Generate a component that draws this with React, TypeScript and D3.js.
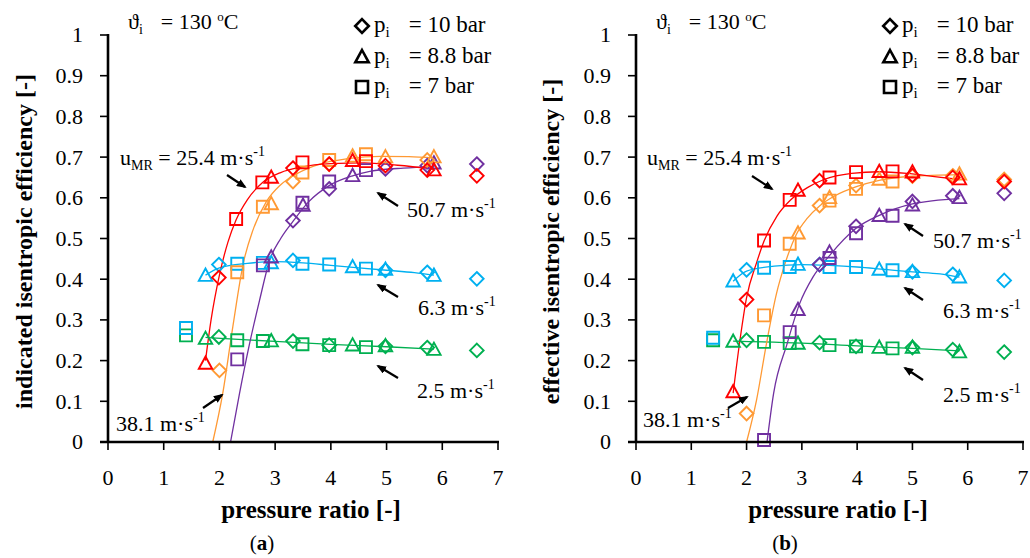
import React from 'react';
import * as d3 from 'd3';

type P = [number, number];

// ---------- axis ticks ----------
const X_TICKS = [0, 1, 2, 3, 4, 5, 6, 7];
const Y_TICKS = [0, 0.1, 0.2, 0.3, 0.4, 0.5, 0.6, 0.7, 0.8, 0.9, 1];
const Y_TICK_LABELS = ['0', '0.1', '0.2', '0.3', '0.4', '0.5', '0.6', '0.7', '0.8', '0.9', '1'];
const LEGEND_LABELS = ['= 10 bar', '= 8.8 bar', '= 7 bar'];
const SPEED_LABELS = ['2.5', '6.3', '25.4', '38.1', '50.7'];

// ---------- (a) indicated isentropic efficiency ----------
const indGreenDia: P[] = [[1.99, 0.258], [3.32, 0.248], [3.97, 0.238], [4.98, 0.235], [5.73, 0.232], [6.62, 0.225]];
const indGreenTri: P[] = [[1.75, 0.254], [2.93, 0.248], [4.39, 0.238], [4.98, 0.236], [5.85, 0.227]];
const indGreenSq: P[] = [[1.40, 0.262], [2.32, 0.25], [2.78, 0.248], [3.49, 0.240], [3.97, 0.238], [4.63, 0.233]];
const indGreenFit: P[] = [[1.75, 0.257], [3.0, 0.247], [4.0, 0.240], [5.0, 0.234], [5.85, 0.228]];

const indBlueDia: P[] = [[1.99, 0.436], [3.32, 0.446], [4.98, 0.422], [5.73, 0.417], [6.62, 0.401]];
const indBlueTri: P[] = [[1.75, 0.409], [2.93, 0.44], [4.39, 0.43], [4.98, 0.424], [5.85, 0.409]];
const indBlueSq: P[] = [[1.40, 0.28], [2.32, 0.438], [2.78, 0.44], [3.49, 0.438], [3.97, 0.436], [4.63, 0.426]];
const indBlueFit: P[] = [[1.75, 0.41], [2.0, 0.428], [2.5, 0.439], [3.0, 0.443], [3.5, 0.44], [4.0, 0.434], [4.5, 0.428], [5.0, 0.422], [5.5, 0.416], [5.85, 0.41]];

const indRedDia: P[] = [[1.99, 0.404], [3.32, 0.673], [3.97, 0.683], [4.98, 0.679], [5.73, 0.668], [6.62, 0.654]];
const indRedTri: P[] = [[1.75, 0.193], [2.93, 0.65], [4.39, 0.691], [5.85, 0.668]];
const indRedSq: P[] = [[2.30, 0.548], [2.77, 0.638], [3.49, 0.687], [4.63, 0.69]];
const indRedFit: P[] = [[1.75, 0.2], [1.85, 0.3], [2.0, 0.41], [2.15, 0.49], [2.3, 0.546], [2.5, 0.595], [2.77, 0.637], [3.1, 0.662], [3.45, 0.675], [4.0, 0.684], [4.6, 0.686], [5.2, 0.68], [5.85, 0.671]];

const indOrangeDia: P[] = [[2.0, 0.176], [3.32, 0.640], [3.97, 0.683], [5.73, 0.693]];
const indOrangeTri: P[] = [[2.93, 0.585], [4.39, 0.702], [4.98, 0.70], [5.85, 0.70]];
const indOrangeSq: P[] = [[2.32, 0.417], [2.78, 0.578], [3.49, 0.662], [3.97, 0.693], [4.63, 0.707]];
const indOrangeFit: P[] = [[1.88, 0], [2.06, 0.12], [2.24, 0.283], [2.43, 0.44], [2.6, 0.52], [2.84, 0.59], [3.1, 0.632], [3.4, 0.66], [3.8, 0.683], [4.3, 0.696], [4.9, 0.702], [5.4, 0.701], [5.85, 0.698]];

const indPurpleDia: P[] = [[3.32, 0.544], [3.97, 0.622], [4.98, 0.671], [5.73, 0.679], [6.62, 0.683]];
const indPurpleTri: P[] = [[2.93, 0.454], [3.50, 0.581], [4.39, 0.654], [5.85, 0.685]];
const indPurpleSq: P[] = [[2.32, 0.203], [2.78, 0.434], [3.49, 0.588], [3.97, 0.640], [4.63, 0.668]];
const indPurpleFit: P[] = [[2.2, 0], [2.36, 0.119], [2.54, 0.241], [2.72, 0.348], [2.9, 0.446], [3.1, 0.5], [3.32, 0.542], [3.6, 0.59], [3.97, 0.63], [4.39, 0.654], [4.7, 0.665], [5.3, 0.673], [5.85, 0.676]];

// ---------- (b) effective isentropic efficiency ----------
const effGreenDia: P[] = [[2.0, 0.25], [3.32, 0.244], [3.98, 0.235], [5.0, 0.232], [5.73, 0.227], [6.66, 0.221]];
const effGreenTri: P[] = [[1.757, 0.247], [2.93, 0.242], [4.40, 0.232], [5.0, 0.232], [5.85, 0.221]];
const effGreenSq: P[] = [[1.395, 0.25], [2.316, 0.246], [2.78, 0.243], [3.5, 0.238], [3.98, 0.235], [4.64, 0.23]];
const effGreenFit: P[] = [[1.757, 0.248], [3.0, 0.243], [4.0, 0.236], [5.0, 0.23], [5.85, 0.224]];

const effBlueDia: P[] = [[2.0, 0.423], [3.32, 0.436], [5.0, 0.418], [5.73, 0.412], [6.66, 0.397]];
const effBlueTri: P[] = [[1.757, 0.395], [2.93, 0.436], [4.40, 0.424], [5.0, 0.418], [5.85, 0.405]];
const effBlueSq: P[] = [[1.395, 0.256], [2.316, 0.428], [2.78, 0.43], [3.5, 0.43], [3.98, 0.43], [4.64, 0.422]];
const effBlueFit: P[] = [[1.757, 0.395], [2.0, 0.42], [2.5, 0.432], [3.0, 0.436], [3.5, 0.434], [4.0, 0.43], [4.5, 0.424], [5.0, 0.418], [5.5, 0.413], [5.85, 0.405]];

const effRedDia: P[] = [[2.0, 0.35], [3.32, 0.642], [5.0, 0.655], [5.73, 0.65], [6.66, 0.64]];
const effRedTri: P[] = [[1.757, 0.123], [2.93, 0.618], [4.40, 0.664], [5.0, 0.663], [5.85, 0.646]];
const effRedSq: P[] = [[2.316, 0.495], [2.78, 0.595], [3.5, 0.65], [3.98, 0.663], [4.64, 0.665]];
const effRedFit: P[] = [[1.757, 0.12], [1.88, 0.25], [2.0, 0.355], [2.18, 0.44], [2.32, 0.495], [2.55, 0.555], [2.8, 0.595], [3.1, 0.625], [3.4, 0.645], [3.9, 0.66], [4.4, 0.664], [4.9, 0.66], [5.4, 0.652], [5.85, 0.645]];

const effOrangeDia: P[] = [[2.0, 0.07], [3.32, 0.581], [3.98, 0.63], [5.0, 0.653], [5.73, 0.654], [6.66, 0.645]];
const effOrangeTri: P[] = [[2.93, 0.513], [3.5, 0.6], [4.40, 0.645], [5.85, 0.658]];
const effOrangeSq: P[] = [[2.316, 0.311], [2.78, 0.487], [3.5, 0.593], [3.98, 0.622], [4.64, 0.64]];
const effOrangeFit: P[] = [[2.0, 0], [2.18, 0.103], [2.36, 0.242], [2.54, 0.364], [2.7, 0.44], [2.9, 0.51], [3.1, 0.55], [3.32, 0.58], [3.6, 0.605], [4.0, 0.628], [4.4, 0.643], [5.0, 0.653], [5.85, 0.657]];

const effPurpleDia: P[] = [[3.32, 0.436], [3.98, 0.53], [5.0, 0.591], [5.73, 0.605], [6.66, 0.611]];
const effPurpleTri: P[] = [[2.93, 0.325], [3.5, 0.466], [4.40, 0.556], [5.0, 0.582], [5.85, 0.6]];
const effPurpleSq: P[] = [[2.316, 0.005], [2.78, 0.27], [3.5, 0.452], [3.98, 0.513], [4.64, 0.556]];
const effPurpleFit: P[] = [[2.37, 0], [2.49, 0.12], [2.73, 0.24], [2.96, 0.34], [3.2, 0.405], [3.5, 0.458], [3.98, 0.525], [4.4, 0.557], [5.0, 0.585], [5.85, 0.598]];

const GREEN = '#00b050';
const BLUE = '#00b0f0';
const RED = '#ff0000';
const ORANGE = '#ff9933';
const PURPLE = '#7030a0';

interface Series { color: string; fit: P[]; dia: P[]; tri: P[]; sq: P[] }

const indSeries: Series[] = [
  { color: GREEN, fit: indGreenFit, dia: indGreenDia, tri: indGreenTri, sq: indGreenSq },
  { color: BLUE, fit: indBlueFit, dia: indBlueDia, tri: indBlueTri, sq: indBlueSq },
  { color: PURPLE, fit: indPurpleFit, dia: indPurpleDia, tri: indPurpleTri, sq: indPurpleSq },
  { color: ORANGE, fit: indOrangeFit, dia: indOrangeDia, tri: indOrangeTri, sq: indOrangeSq },
  { color: RED, fit: indRedFit, dia: indRedDia, tri: indRedTri, sq: indRedSq },
];
const effSeries: Series[] = [
  { color: GREEN, fit: effGreenFit, dia: effGreenDia, tri: effGreenTri, sq: effGreenSq },
  { color: BLUE, fit: effBlueFit, dia: effBlueDia, tri: effBlueTri, sq: effBlueSq },
  { color: PURPLE, fit: effPurpleFit, dia: effPurpleDia, tri: effPurpleTri, sq: effPurpleSq },
  { color: ORANGE, fit: effOrangeFit, dia: effOrangeDia, tri: effOrangeTri, sq: effOrangeSq },
  { color: RED, fit: effRedFit, dia: effRedDia, tri: effRedTri, sq: effRedSq },
];

const FONT = "'Liberation Serif', 'DejaVu Serif', serif";
const Y0 = 442;
const Y1 = 35;
const FS = 22;

const DIA = 'M0,-6.8L6.8,0L0,6.8L-6.8,0Z';
const TRI = 'M0,-7L6.7,5.3L-6.7,5.3Z';
const SQ = 'M-6,-6H6V6H-6Z';

function Speed({ x, y, v }: { x: number; y: number; v: string }) {
  return (
    <text x={x} y={y} fontSize={FS}>
      {v} m·s<tspan dy={-9} fontSize={14}>-1</tspan>
    </text>
  );
}

function Arrow({ x1, y1, x2, y2 }: { x1: number; y1: number; x2: number; y2: number }) {
  return <line x1={x1} y1={y1} x2={x2} y2={y2} stroke="#000" strokeWidth={2.2} markerEnd="url(#ah)" />;
}

interface Ann {
  speeds: { x: number; y: number; v: string; ax1: number; ay1: number; ax2: number; ay2: number }[];
  umr: { x: number; y: number };
}

function Panel({ x0, x1, series, yTitle, yTitleX, xTitleX, tag, tagX, ann }:
  { x0: number; x1: number; series: Series[]; yTitle: string; yTitleX: number; xTitleX: number; tag: string; tagX: number; ann: Ann }) {
  const xs = d3.scaleLinear().domain([0, 7]).range([x0, x1]);
  const ys = d3.scaleLinear().domain([0, 1]).range([Y0, Y1]);
  const line = d3.line<P>().x(d => xs(d[0])).y(d => ys(d[1])).curve(d3.curveMonotoneX);
  const lx = x0 + 254; // legend marker x
  return (
    <g fontFamily={FONT} fill="#000">
      {series.map((s, i) => (
        <path key={'l' + i} d={line(s.fit) || ''} fill="none" stroke={s.color} strokeWidth={1.3} />
      ))}
      {series.map((s, i) => (
        <g key={'m' + i} fill="none" stroke={s.color} strokeWidth={1.9}>
          {s.dia.map((d, j) => <path key={'d' + j} d={DIA} transform={`translate(${xs(d[0])},${ys(d[1])})`} />)}
          {s.tri.map((d, j) => <path key={'t' + j} d={TRI} transform={`translate(${xs(d[0])},${ys(d[1])})`} />)}
          {s.sq.map((d, j) => <path key={'s' + j} d={SQ} transform={`translate(${xs(d[0])},${ys(d[1])})`} />)}
        </g>
      ))}
      <line x1={x0} x2={x0} y1={Y1 - 1} y2={Y0 + 1} stroke="#000" strokeWidth={2.6} />
      <line x1={x0 - 8} x2={x1 + 1} y1={Y0} y2={Y0} stroke="#000" strokeWidth={2.6} />
      {Y_TICKS.map((t, i) => (
        <g key={'yt' + i}>
          <line x1={x0 - 8} x2={x0} y1={ys(t)} y2={ys(t)} stroke="#000" strokeWidth={1.6} />
          <text x={x0 - 25} y={ys(t)} dy="0.34em" textAnchor="end" fontSize={FS}>{Y_TICK_LABELS[i]}</text>
        </g>
      ))}
      {X_TICKS.map((t, i) => (
        <g key={'xt' + i}>
          <line x1={xs(t)} x2={xs(t)} y1={Y0} y2={Y0 + 8} stroke="#000" strokeWidth={1.6} />
          <text x={xs(t)} y={485} textAnchor="middle" fontSize={FS}>{t}</text>
        </g>
      ))}
      <text transform={`translate(${yTitleX},${(Y0 + Y1) / 2 + 3}) rotate(-90)`} textAnchor="middle" fontSize={24} fontWeight="bold">{yTitle}</text>
      <text x={xTitleX} y={518} textAnchor="middle" fontSize={25} fontWeight="bold">pressure ratio [-]</text>
      <text x={tagX} y={550} textAnchor="middle" fontSize={21}>(<tspan fontWeight="bold">{tag}</tspan>)</text>
      <text x={x0 + 20} y={29} fontSize={FS}>
        ϑ<tspan dy={5} fontSize={14}>i</tspan><tspan dy={-5} dx={18}>= 130 </tspan><tspan dy={-8} fontSize={13}>o</tspan><tspan dy={8}>C</tspan>
      </text>
      <path d={DIA} transform={`translate(${lx},26)`} fill="none" stroke="#000" strokeWidth={2.6} />
      <path d={TRI} transform={`translate(${lx},57)`} fill="none" stroke="#000" strokeWidth={2.6} />
      <path d={SQ} transform={`translate(${lx},87)`} fill="none" stroke="#000" strokeWidth={2.6} />
      {LEGEND_LABELS.map((l, i) => (
        <text key={'lg' + i} x={lx + 12} y={32 + i * 30.5} fontSize={23}>
          p<tspan dy={5} fontSize={15}>i</tspan><tspan dy={-5} dx={19}>{l}</tspan>
        </text>
      ))}
      <text x={ann.umr.x} y={ann.umr.y} fontSize={FS}>
        u<tspan dy={5} fontSize={14}>MR</tspan><tspan dy={-5}> = {SPEED_LABELS[2]} m·s</tspan><tspan dy={-9} fontSize={14}>-1</tspan>
      </text>
      {ann.speeds.map((s, i) => (
        <g key={'sp' + i}>
          {s.v !== '' && <Speed x={s.x} y={s.y} v={s.v} />}
          <Arrow x1={s.ax1} y1={s.ay1} x2={s.ax2} y2={s.ay2} />
        </g>
      ))}
    </g>
  );
}

const annA: Ann = {
  umr: { x: 120, y: 165 },
  speeds: [
    { x: 0, y: 0, v: '', ax1: 227, ay1: 175, ax2: 245, ay2: 187 },
    { x: 407, y: 217, v: SPEED_LABELS[4], ax1: 398, ay1: 206, ax2: 378, ay2: 193 },
    { x: 418, y: 315, v: SPEED_LABELS[1], ax1: 398, ay1: 297, ax2: 378, ay2: 285 },
    { x: 417, y: 398, v: SPEED_LABELS[0], ax1: 398, ay1: 378, ax2: 378, ay2: 366 },
    { x: 116, y: 431, v: SPEED_LABELS[3], ax1: 203, ay1: 408, ax2: 222, ay2: 395 },
  ],
};
const annB: Ann = {
  umr: { x: 647, y: 165 },
  speeds: [
    { x: 0, y: 0, v: '', ax1: 752, ay1: 176, ax2: 772, ay2: 189 },
    { x: 933, y: 248, v: SPEED_LABELS[4], ax1: 923, ay1: 236, ax2: 905, ay2: 224 },
    { x: 943, y: 318, v: SPEED_LABELS[1], ax1: 923, ay1: 300, ax2: 905, ay2: 288 },
    { x: 943, y: 402, v: SPEED_LABELS[0], ax1: 923, ay1: 380, ax2: 905, ay2: 368 },
    { x: 643, y: 427, v: SPEED_LABELS[3], ax1: 728, ay1: 408, ax2: 747, ay2: 397 },
  ],
};

export default function App() {
  return (
    <svg width={1030} height={558} style={{ position: 'absolute', left: 0, top: 0, background: '#fff' }}>
      <defs>
        <marker id="ah" viewBox="0 0 10 8" refX={8} refY={4} markerWidth={10} markerHeight={8} markerUnits="userSpaceOnUse" orient="auto">
          <path d="M0,0L10,4L0,8Z" fill="#000" />
        </marker>
      </defs>
      <rect width={1030} height={558} fill="#fff" />
      <Panel x0={108} x1={498} series={indSeries} yTitle="indicated isentropic efficiency [-]" yTitleX={32}
        xTitleX={311} tag="a" tagX={262} ann={annA} />
      <Panel x0={636} x1={1023} series={effSeries} yTitle="effective isentropic efficiency [-]" yTitleX={559}
        xTitleX={838} tag="b" tagX={785} ann={annB} />
    </svg>
  );
}
